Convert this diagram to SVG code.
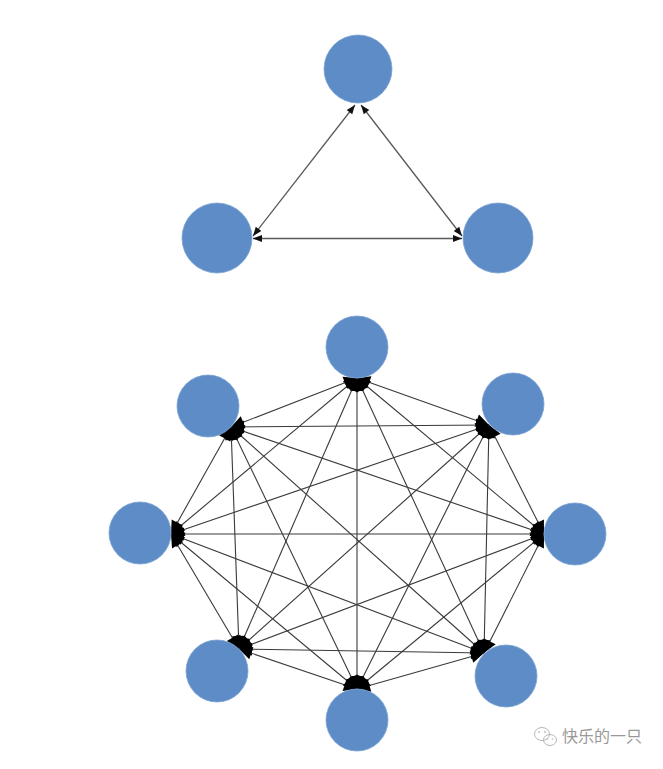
<svg xmlns="http://www.w3.org/2000/svg" width="663" height="769" viewBox="0 0 663 769">
<style>
.node{fill:#5d8cc6;stroke:#7aa2d3;stroke-width:0.8}
.tri{stroke:#5a5a5a;stroke-width:1.3;fill:none;marker-start:url(#ahs);marker-end:url(#ahs)}
.oct{stroke:#3a3a3a;stroke-width:1.1;fill:none;marker-start:url(#ahb);marker-end:url(#ahb)}
.wm{font-family:"Noto Sans CJK SC","Noto Sans",sans-serif;font-size:16px;fill:#999}
.icon{fill:none;stroke:#b8b8b8;stroke-width:1}
</style>
<defs>
<marker id="ahs" markerUnits="userSpaceOnUse" markerWidth="10" markerHeight="8" refX="9" refY="4" orient="auto-start-reverse" overflow="visible">
<path d="M0,0.5 L9,4 L0,7.5 z" fill="#111"/>
</marker>
<marker id="ahb" markerUnits="userSpaceOnUse" markerWidth="14" markerHeight="14" refX="13" refY="7" orient="auto-start-reverse" overflow="visible">
<path d="M0,0.5 L13,7 L0,13.5 z" fill="#000"/>
</marker>
</defs>
<rect width="663" height="769" fill="#fff"/>
<g id="connectors">
<line class="tri" x1="253" y1="236" x2="355" y2="105"/>
<line class="tri" x1="361" y1="105" x2="462" y2="236"/>
<line class="tri" x1="253" y1="238.5" x2="462" y2="238.5"/>
<line class="oct" x1="357" y1="378" x2="489" y2="425"/>
<line class="oct" x1="357" y1="378" x2="544" y2="534"/>
<line class="oct" x1="357" y1="378" x2="484" y2="653"/>
<line class="oct" x1="357" y1="378" x2="357" y2="689"/>
<line class="oct" x1="357" y1="378" x2="239" y2="649"/>
<line class="oct" x1="357" y1="378" x2="171" y2="534"/>
<line class="oct" x1="357" y1="378" x2="231" y2="427"/>
<line class="oct" x1="489" y1="425" x2="544" y2="534"/>
<line class="oct" x1="489" y1="425" x2="484" y2="653"/>
<line class="oct" x1="489" y1="425" x2="357" y2="689"/>
<line class="oct" x1="489" y1="425" x2="239" y2="649"/>
<line class="oct" x1="489" y1="425" x2="171" y2="534"/>
<line class="oct" x1="489" y1="425" x2="231" y2="427"/>
<line class="oct" x1="544" y1="534" x2="484" y2="653"/>
<line class="oct" x1="544" y1="534" x2="357" y2="689"/>
<line class="oct" x1="544" y1="534" x2="239" y2="649"/>
<line class="oct" x1="544" y1="534" x2="171" y2="534"/>
<line class="oct" x1="544" y1="534" x2="231" y2="427"/>
<line class="oct" x1="484" y1="653" x2="357" y2="689"/>
<line class="oct" x1="484" y1="653" x2="239" y2="649"/>
<line class="oct" x1="484" y1="653" x2="171" y2="534"/>
<line class="oct" x1="484" y1="653" x2="231" y2="427"/>
<line class="oct" x1="357" y1="689" x2="239" y2="649"/>
<line class="oct" x1="357" y1="689" x2="171" y2="534"/>
<line class="oct" x1="357" y1="689" x2="231" y2="427"/>
<line class="oct" x1="239" y1="649" x2="171" y2="534"/>
<line class="oct" x1="239" y1="649" x2="231" y2="427"/>
<line class="oct" x1="171" y1="534" x2="231" y2="427"/>
</g>
<g id="t-top"><circle class="node" cx="358" cy="69" r="34"/></g>
<g id="t-left"><circle class="node" cx="217" cy="238" r="35"/></g>
<g id="t-right"><circle class="node" cx="498" cy="238" r="35"/></g>
<g id="o-top"><circle class="node" cx="357" cy="347" r="31"/></g>
<g id="o-topright"><circle class="node" cx="513" cy="404" r="31"/></g>
<g id="o-right"><circle class="node" cx="575" cy="534" r="31"/></g>
<g id="o-bottomright"><circle class="node" cx="506" cy="676" r="31"/></g>
<g id="o-bottom"><circle class="node" cx="357" cy="720" r="31"/></g>
<g id="o-bottomleft"><circle class="node" cx="217" cy="671" r="31"/></g>
<g id="o-left"><circle class="node" cx="140" cy="533" r="31"/></g>
<g id="o-topleft"><circle class="node" cx="208" cy="406" r="31"/></g>
<g id="watermark">
<ellipse class="icon" cx="542" cy="734" rx="7.5" ry="6.5"/>
<ellipse class="icon" cx="550" cy="740" rx="6.5" ry="5.5" fill="#fff"/>
<circle cx="539" cy="732" r="0.9" fill="#b8b8b8"/>
<circle cx="545" cy="732" r="0.9" fill="#b8b8b8"/>
<circle cx="547.5" cy="739" r="0.8" fill="#b8b8b8"/>
<circle cx="552.5" cy="739" r="0.8" fill="#b8b8b8"/>
<text class="wm" x="562" y="742">快乐的一只</text>
</g>
</svg>
